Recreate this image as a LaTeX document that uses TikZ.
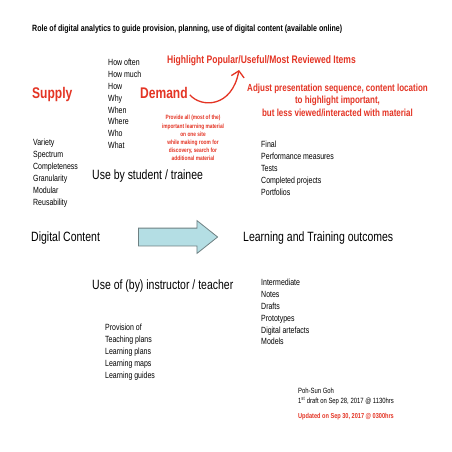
\documentclass[tikz,border=0pt]{standalone}
\usepackage{fontspec}
\setmainfont{Liberation Sans}[FakeStretch=0.78]
\usetikzlibrary{arrows.meta,shapes.arrows}
\definecolor{hlred}{RGB}{228,52,36}
\definecolor{flowfill}{RGB}{180,222,228}
\definecolor{flowline}{RGB}{110,128,130}

\begin{document}
\begin{tikzpicture}[
  txt/.style={anchor=base west,inner sep=0pt},
  itemlist/.style={anchor=north west,align=left,inner sep=0pt,font=\fontsize{9}{12}\selectfont},
  heading/.style={txt,font=\fontsize{13.5}{16}\selectfont},
  redword/.style={txt,text=hlred,font=\bfseries\fontsize{15.5}{18}\selectfont},
  rednote/.style={anchor=north,align=center,inner sep=0pt,text=hlred,font=\bfseries\fontsize{10.3}{12.5}\selectfont}]

\path[fill=white,use as bounding box] (0bp,0bp) rectangle (452bp,-452bp);

\node (title) at (32bp,-31.5bp)[txt,font=\bfseries\fontsize{9.1}{11}\selectfont] {Role of digital analytics to guide provision, planning, use of digital content (available online)};

\node (supply) at (32bp,-98bp)[redword] {Supply};
\node (demand) at (140bp,-98bp)[redword] {Demand};
\node (popular) at (167bp,-63bp)[txt,text=hlred,font=\bfseries\fontsize{11}{13}\selectfont] {Highlight Popular/Useful/Most Reviewed Items};
\node (adjust) at (337.5bp,-83.5bp)[rednote] {Adjust presentation sequence, content location\\to highlight important,\\but less viewed/interacted with material};
\node (onesite) at (193bp,-115.2bp)[rednote,font=\bfseries\fontsize{6.2}{8.2}\selectfont] {Provide all (most of the)\\important learning material\\on one site\\while making room for\\discovery, search for\\additional material};

\node (howlist) at (108bp,-58.5bp)[itemlist] {How often\\How much\\How\\Why\\When\\Where\\Who\\What};
\node (contentlist) at (33bp,-138.5bp)[itemlist,font=\fontsize{9}{12.2}\selectfont] {Variety\\Spectrum\\Completeness\\Granularity\\Modular\\Reusability};
\node (finallist) at (261bp,-140.5bp)[itemlist] {Final\\Performance measures\\Tests\\Completed projects\\Portfolios};
\node (interimlist) at (261bp,-278.5bp)[itemlist] {Intermediate\\Notes\\Drafts\\Prototypes\\Digital artefacts\\Models};
\node (guidelist) at (105bp,-323.5bp)[itemlist] {Provision of\\Teaching plans\\Learning plans\\Learning maps\\Learning guides};

\node (student) at (92bp,-179bp)[heading] {Use by student / trainee};
\node (content) at (31bp,-241bp)[heading] {Digital Content};
\node (outcomes) at (243bp,-241bp)[heading] {Learning and Training outcomes};
\node (teacher) at (92bp,-289.5bp)[heading] {Use of (by) instructor / teacher};

\node (flow) at (172.5bp,-237bp)[draw=flowline,fill=flowfill,line width=0.8bp,single arrow,single arrow head extend=7.5bp,single arrow tip angle=77,minimum height=79bp,minimum width=32bp,inner xsep=0pt,inner ysep=8.5bp] {};

\node (author) at (298bp,-393bp)[txt,font=\fontsize{7.6}{9}\selectfont] {Poh-Sun Goh};
\node (draft) at (298bp,-403.5bp)[txt,font=\fontsize{7.6}{9}\selectfont] {1\textsuperscript{st} draft on Sep 28, 2017 @ 1130hrs};
\node (update) at (298bp,-418bp)[txt,text=hlred,font=\bfseries\fontsize{7.2}{9}\selectfont] {Updated on Sep 30, 2017 @ 0300hrs};

\coordinate (popularfoot) at (239bp,-70bp);
\draw [->,>={Straight Barb[length=6bp,width=13bp]},hlred,line width=1.3bp,shorten <=3bp] (demand.east) .. controls (201bp,-108bp) and (232bp,-108bp) .. (popularfoot);
\end{tikzpicture}
\end{document}
